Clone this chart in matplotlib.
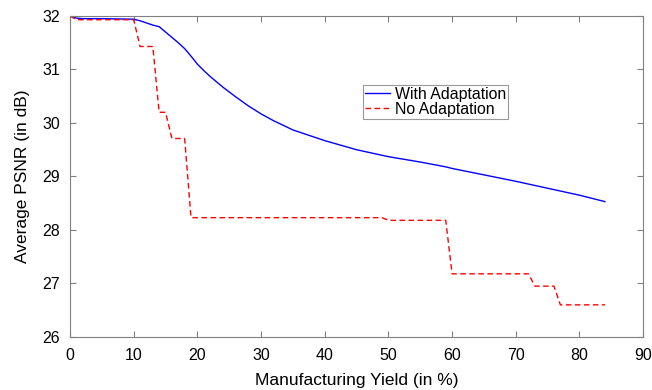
import matplotlib.pyplot as plt
import numpy as np

plt.rcParams['font.family'] = ['Liberation Sans', 'DejaVu Sans']

# With adaptation (blue, solid)
x_adapt = [0, 1, 2, 5, 10, 11, 12, 13, 14, 15, 16, 17, 18, 19, 20, 21, 22, 23, 24, 25,
           26, 28, 30, 32, 35, 40, 45, 50, 55, 59, 60, 65, 70, 75, 80, 84]
psnr_adapt = [32.0, 31.96, 31.95, 31.95, 31.94, 31.91, 31.87, 31.83, 31.8, 31.7, 31.6, 31.5,
              31.39, 31.25, 31.1, 30.98, 30.87, 30.77, 30.67, 30.58, 30.49, 30.32, 30.17,
              30.04, 29.87, 29.67, 29.5, 29.37, 29.27, 29.18, 29.15, 29.03, 28.91, 28.78,
              28.65, 28.53]

# No adaptation (red, dashed)
x_none = [0, 1, 10, 11, 13, 14, 15, 16, 18, 19, 49, 50, 59, 60, 72, 73, 76, 77, 84]
psnr_none = [32.0, 31.93, 31.93, 31.43, 31.43, 30.2, 30.2, 29.71, 29.71, 28.23, 28.23,
             28.18, 28.18, 27.18, 27.18, 26.95, 26.95, 26.6, 26.6]

fig = plt.figure(figsize=(6.52, 3.90), dpi=100)
ax = fig.add_axes([0.1074, 0.136, 0.879, 0.823])

ax.plot(x_adapt, psnr_adapt, '-', color='#0000ff', lw=1.0, label='With Adaptation')
ax.plot(x_none, psnr_none, '--', color='#ff0000', lw=1.0, label='No Adaptation',
        dashes=(4, 2.5))

ax.set_xlim(0, 90)
ax.set_ylim(26, 32)
ax.set_xticks(np.arange(0, 91, 10))
ax.set_yticks(np.arange(26, 33, 1))
ax.tick_params(direction='in', top=True, right=True, length=4, width=0.8,
               color='#808080', labelsize=11.5)
ax.tick_params(axis='x', pad=8)
ax.tick_params(axis='y', pad=7)
for s in ax.spines.values():
    s.set_color('#808080')
    s.set_linewidth(0.8)

ax.set_xlabel('Manufacturing Yield (in %)', fontsize=12.5, labelpad=7)
ax.set_ylabel('Average PSNR (in dB)', fontsize=12.5, labelpad=9)

leg = ax.legend(loc='upper left', bbox_to_anchor=(0.511, 0.785), fontsize=11.4,
                frameon=True, fancybox=False, handlelength=1.6, handletextpad=0.3,
                borderpad=0.12, labelspacing=0.0, borderaxespad=0)
leg.get_frame().set_edgecolor('#808080')
leg.get_frame().set_linewidth(0.8)

fig.savefig('out.png', dpi=100)
